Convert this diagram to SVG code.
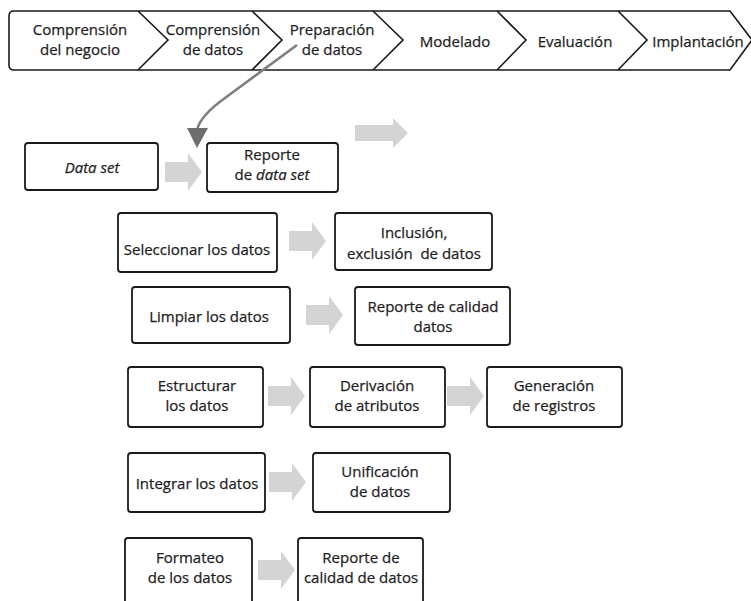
<svg xmlns="http://www.w3.org/2000/svg" width="751" height="601" viewBox="0 0 751 601">
<style>
  .t { font-family: "Open Sans", "Liberation Sans", sans-serif; font-size: 15px; fill: #1e1e1e; stroke: #1e1e1e; stroke-width: 0.25; text-anchor: middle; }
  .box { fill: #fff; stroke: #1a1a1a; stroke-width: 1.8; }
  .ban { fill: #fff; stroke: #1a1a1a; stroke-width: 1.6; stroke-linejoin: miter; }
  .div { fill: none; stroke: #1a1a1a; stroke-width: 1.6; }
  .ga { fill: #d4d4d4; }
</style>
<defs>
  <path id="arr" d="M0,-10 H23 V-19 L37,0 L23,19 V10 H0 Z"/>
</defs>
<rect width="751" height="601" fill="#fff"/>

<g id="banner">
  <path class="ban" d="M14,11 H730 L752,40 L730,70 H14 Q9,70 9,65 V16 Q9,11 14,11 Z"/>
  <polyline class="div" points="138,11 168,40 138,70"/>
  <polyline class="div" points="252,11 282,40 252,70"/>
  <polyline class="div" points="373,11 403,40 373,70"/>
  <polyline class="div" points="497,11 526,40 497,70"/>
  <polyline class="div" points="618,11 647,40 618,70"/>
  <text class="t" x="80" y="35">Comprensión</text>
  <text class="t" x="80" y="55">del negocio</text>
  <text class="t" x="213" y="35">Comprensión</text>
  <text class="t" x="213" y="55">de datos</text>
  <text class="t" x="332" y="35">Preparación</text>
  <text class="t" x="332" y="55">de datos</text>
  <text class="t" x="455" y="47">Modelado</text>
  <text class="t" x="575" y="47">Evaluación</text>
  <text class="t" x="698" y="47">Implantación</text>
</g>

<g id="connectors">
  <path d="M297,45 L225,98 Q200,116 197,130" fill="none" stroke="#7f7f7f" stroke-width="2.6"/>
  <polygon points="187,128 208,128 197,148" fill="#6e6e6e"/>
  <path class="ga" d="M355,125 H393 V118 L408,133 L393,148 V141 H355 Z"/>
  <use href="#arr" class="ga" x="165" y="172"/>
  <use href="#arr" class="ga" x="289" y="241"/>
  <use href="#arr" class="ga" x="306" y="315"/>
  <use href="#arr" class="ga" x="268" y="396"/>
  <use href="#arr" class="ga" x="447" y="396"/>
  <use href="#arr" class="ga" x="269" y="482"/>
  <use href="#arr" class="ga" x="258" y="570"/>
</g>

<g id="n-dataset">
  <rect class="box" x="25" y="143" width="133" height="47" rx="3"/>
  <text class="t" x="92" y="173" font-style="italic">Data set</text>
</g>
<g id="n-reporte-dataset">
  <rect class="box" x="207" y="143" width="131" height="49" rx="3"/>
  <text class="t" x="272" y="160">Reporte</text>
  <text class="t" x="272" y="180">de <tspan font-style="italic">data set</tspan></text>
</g>
<g id="n-seleccionar">
  <rect class="box" x="118" y="213" width="159" height="59" rx="3"/>
  <text class="t" x="197" y="255">Seleccionar los datos</text>
</g>
<g id="n-inclusion">
  <rect class="box" x="335" y="213" width="157" height="57" rx="3"/>
  <text class="t" x="414" y="238">Inclusión,</text>
  <text class="t" x="414" y="259" xml:space="preserve">exclusión  de datos</text>
</g>
<g id="n-limpiar">
  <rect class="box" x="132" y="287" width="158" height="56" rx="3"/>
  <text class="t" x="209" y="322">Limpiar los datos</text>
</g>
<g id="n-reporte-calidad">
  <rect class="box" x="355" y="287" width="155" height="58" rx="3"/>
  <text class="t" x="433" y="312">Reporte de calidad</text>
  <text class="t" x="433" y="332">datos</text>
</g>
<g id="n-estructurar">
  <rect class="box" x="128" y="367" width="135" height="60" rx="3"/>
  <text class="t" x="197" y="391">Estructurar</text>
  <text class="t" x="197" y="411">los datos</text>
</g>
<g id="n-derivacion">
  <rect class="box" x="310" y="367" width="135" height="60" rx="3"/>
  <text class="t" x="377" y="391">Derivación</text>
  <text class="t" x="377" y="411">de atributos</text>
</g>
<g id="n-generacion">
  <rect class="box" x="487" y="367" width="135" height="60" rx="3"/>
  <text class="t" x="554" y="391">Generación</text>
  <text class="t" x="554" y="411">de registros</text>
</g>
<g id="n-integrar">
  <rect class="box" x="128" y="453" width="137" height="59" rx="3"/>
  <text class="t" x="197" y="489">Integrar los datos</text>
</g>
<g id="n-unificacion">
  <rect class="box" x="313" y="453" width="137" height="59" rx="3"/>
  <text class="t" x="380" y="477">Unificación</text>
  <text class="t" x="380" y="497">de datos</text>
</g>
<g id="n-formateo">
  <rect class="box" x="125" y="538" width="127" height="70" rx="3"/>
  <text class="t" x="190" y="563">Formateo</text>
  <text class="t" x="190" y="583">de los datos</text>
</g>
<g id="n-reporte-calidad2">
  <rect class="box" x="298" y="538" width="125" height="70" rx="3"/>
  <text class="t" x="361" y="563">Reporte de</text>
  <text class="t" x="361" y="583">calidad de datos</text>
</g>
</svg>
